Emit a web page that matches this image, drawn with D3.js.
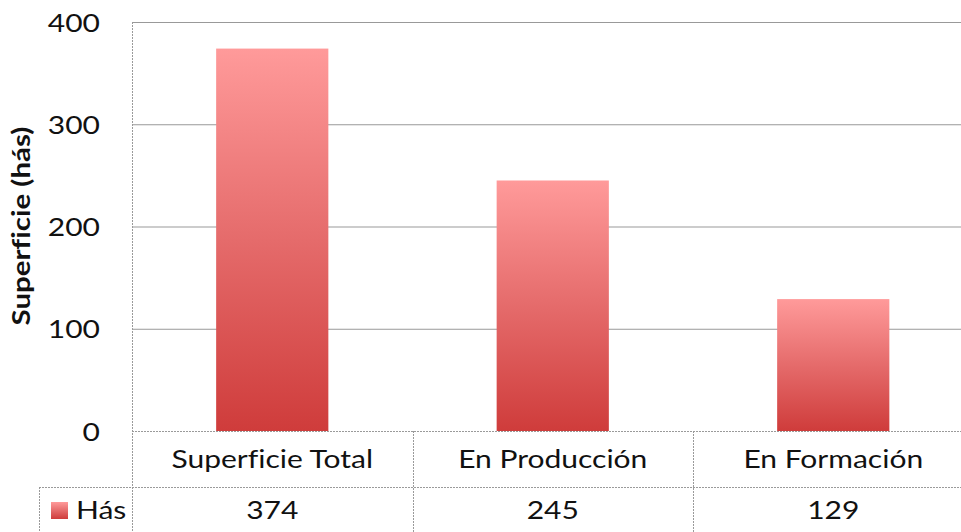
<!DOCTYPE html>
<html>
<head>
<meta charset="utf-8">
<script src="https://cdn.jsdelivr.net/npm/d3@7"></script>
<style>
  body { margin: 0; background: #fff; }
  svg { display: block; }
  text { font-family: Lato, "Open Sans", sans-serif; fill: #111; font-variant-ligatures: none; }
</style>
</head>
<body>
<svg id="chart"></svg>
<script>
// datos
const categorias = ["Superficie Total", "En Producción", "En Formación"];
const valores = [374, 245, 129];
const serie = "Hás";
const ticks = [0, 100, 200, 300, 400];

const width = 961;
const height = 532;
const plotLeft = 132;
const plotTop = 22;
const base = 431;
const catW = 280.5;
const rowY = 487;
const stretch = 1.2; // el texto original es mas ancho

const svg = d3.select("#chart")
  .attr("width", width)
  .attr("height", height);

// gradiente de las barras
const grad = svg.append("defs").append("linearGradient")
  .attr("id", "barGrad")
  .attr("x1", 0).attr("y1", 0).attr("x2", 0).attr("y2", 1);
grad.append("stop").attr("offset", "0%").attr("stop-color", "#ff9a9a");
grad.append("stop").attr("offset", "50%").attr("stop-color", "#e56b6b");
grad.append("stop").attr("offset", "100%").attr("stop-color", "#cf3c3b");

const x = d3.scaleBand()
  .domain(categorias)
  .range([plotLeft, plotLeft + catW * categorias.length])
  .paddingInner(0)
  .paddingOuter(0);

const y = d3.scaleLinear()
  .domain([0, 400])
  .range([base, plotTop]);

// lineas de cuadricula
svg.append("g")
  .selectAll("line")
  .data(ticks.filter(d => d > 0))
  .enter()
  .append("line")
  .attr("x1", plotLeft).attr("x2", width)
  .attr("y1", d => y(d) + 0.5).attr("y2", d => y(d) + 0.5)
  .attr("stroke", "#999")
  .attr("stroke-width", 1);

// barras
svg.append("g")
  .selectAll("rect")
  .data(valores)
  .enter()
  .append("rect")
  .attr("x", (d, i) => x(categorias[i]) + x.bandwidth() * 0.3)
  .attr("width", x.bandwidth() * 0.4)
  .attr("y", d => y(d))
  .attr("height", d => base - y(d))
  .attr("fill", "url(#barGrad)");

// eje y
const yAxis = d3.axisLeft(y).tickValues(ticks).tickSize(0).tickPadding(0);
const gy = svg.append("g")
  .attr("transform", `translate(${plotLeft - 32}, 0)`)
  .call(yAxis);
gy.select(".domain").remove();
gy.selectAll("text")
  .attr("font-size", 25)
  .attr("font-family", "Lato, sans-serif")
  .attr("fill", "#111")
  .attr("dy", "0.36em")
  .attr("transform", `scale(${stretch},1)`);

svg.append("text")
  .attr("transform", `translate(30, 226) rotate(-90) scale(1.23,1)`)
  .attr("text-anchor", "middle")
  .attr("font-size", 24)
  .attr("font-weight", "bold")
  .text("Superficie (hás)");

// tabla de datos
const grid = svg.append("g")
  .attr("stroke", "#9a9a9a")
  .attr("stroke-width", 1)
  .attr("stroke-dasharray", "2,1");

grid.append("line")
  .attr("x1", plotLeft + 0.5).attr("x2", plotLeft + 0.5)
  .attr("y1", plotTop).attr("y2", height);
grid.append("line")
  .attr("x1", plotLeft).attr("x2", width)
  .attr("y1", base + 0.5).attr("y2", base + 0.5);
grid.append("line")
  .attr("x1", 39).attr("x2", width)
  .attr("y1", rowY + 0.5).attr("y2", rowY + 0.5);
grid.append("line")
  .attr("x1", 39.5).attr("x2", 39.5)
  .attr("y1", rowY).attr("y2", height);
grid.selectAll(".sep")
  .data(categorias.slice(1))
  .enter()
  .append("line")
  .attr("x1", d => Math.round(x(d)) + 0.5).attr("x2", d => Math.round(x(d)) + 0.5)
  .attr("y1", base).attr("y2", height);

svg.append("g")
  .selectAll("text")
  .data(categorias)
  .enter()
  .append("text")
  .attr("transform", d => `translate(${x(d) + x.bandwidth() / 2}, 468) scale(${stretch},1)`)
  .attr("text-anchor", "middle")
  .attr("font-size", 25)
  .text(d => d);

svg.append("g")
  .selectAll("text")
  .data(valores)
  .enter()
  .append("text")
  .attr("transform", (d, i) => `translate(${x(categorias[i]) + x.bandwidth() / 2}, 519) scale(${stretch},1)`)
  .attr("text-anchor", "middle")
  .attr("font-size", 25)
  .text(d => d);

// leyenda
svg.append("rect")
  .attr("x", 51).attr("y", 502)
  .attr("width", 17).attr("height", 17)
  .attr("fill", "url(#barGrad)");
svg.append("text")
  .attr("transform", `translate(76, 519) scale(${stretch},1)`)
  .attr("font-size", 25)
  .text(serie);
</script>
</body>
</html>
